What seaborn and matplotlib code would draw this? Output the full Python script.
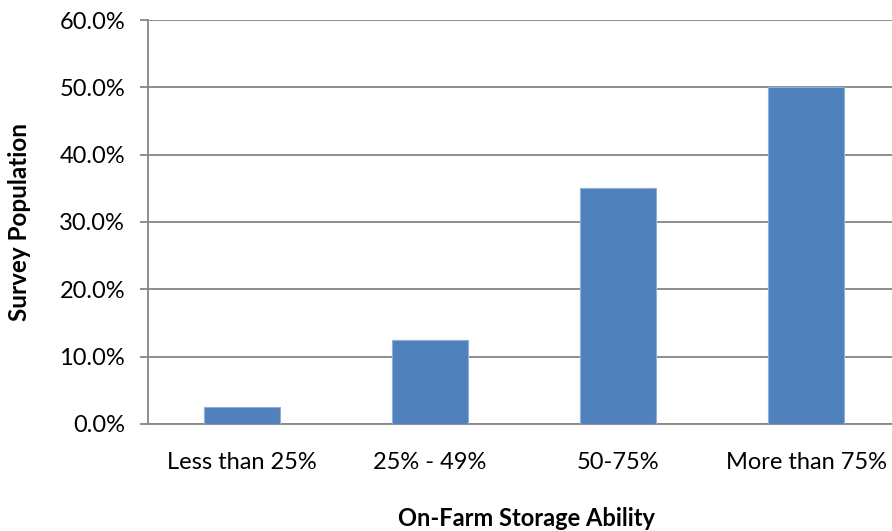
import matplotlib
matplotlib.use("Agg")
import matplotlib.pyplot as plt
import seaborn as sns
import pandas as pd
from matplotlib.ticker import PercentFormatter

categories = ["Less than 25%", "25% - 49%", "50-75%", "More than 75%"]
shares = [2.5, 12.5, 35.0, 50.0]
y_ticks = [0, 10, 20, 30, 40, 50, 60]

df = pd.DataFrame({"storage": categories, "share": shares})

sns.set_theme(style="white")
plt.rcParams["font.family"] = ["Lato", "DejaVu Sans"]

fig = plt.figure(figsize=(8.92, 5.31), dpi=100)
ax = fig.add_axes([148 / 892, 1 - 424 / 531, 752 / 892, 404 / 531])

sns.barplot(data=df, x="storage", y="share", order=categories, color="#4F81BD",
            width=0.4, edgecolor="#8CB0DC", linewidth=0.8, saturation=1,
            ax=ax, zorder=3)

ax.set_xlim(-0.5, 3.5)
ax.set_ylim(0, 60)
ax.set_yticks(y_ticks)
ax.yaxis.set_major_formatter(PercentFormatter(decimals=1))
ax.yaxis.grid(True, color="#868686", linewidth=1.3, zorder=0)
ax.set_axisbelow(True)

for side in ["top", "right"]:
    ax.spines[side].set_visible(False)
for side in ["left", "bottom"]:
    ax.spines[side].set_color("#868686")
    ax.spines[side].set_linewidth(1.3)

ax.tick_params(axis="y", which="major", left=True, length=5.5, width=1.3,
               color="#868686", labelsize=17, labelcolor="black", pad=11)
ax.tick_params(axis="x", which="major", bottom=False, labelsize=17,
               labelcolor="black", pad=14)

ax.set_xlabel("")
ax.set_ylabel("")
fig.text(526 / 892, 1 - 519 / 531, "On-Farm Storage Ability", ha="center",
         va="center", fontsize=17, fontweight="bold", color="black")
fig.text(20 / 892, 1 - 222 / 531, "Survey Population", ha="center",
         va="center", rotation=90, fontsize=17.5, fontweight="bold", color="black")

fig.savefig("out.png", dpi=100, facecolor="white")
